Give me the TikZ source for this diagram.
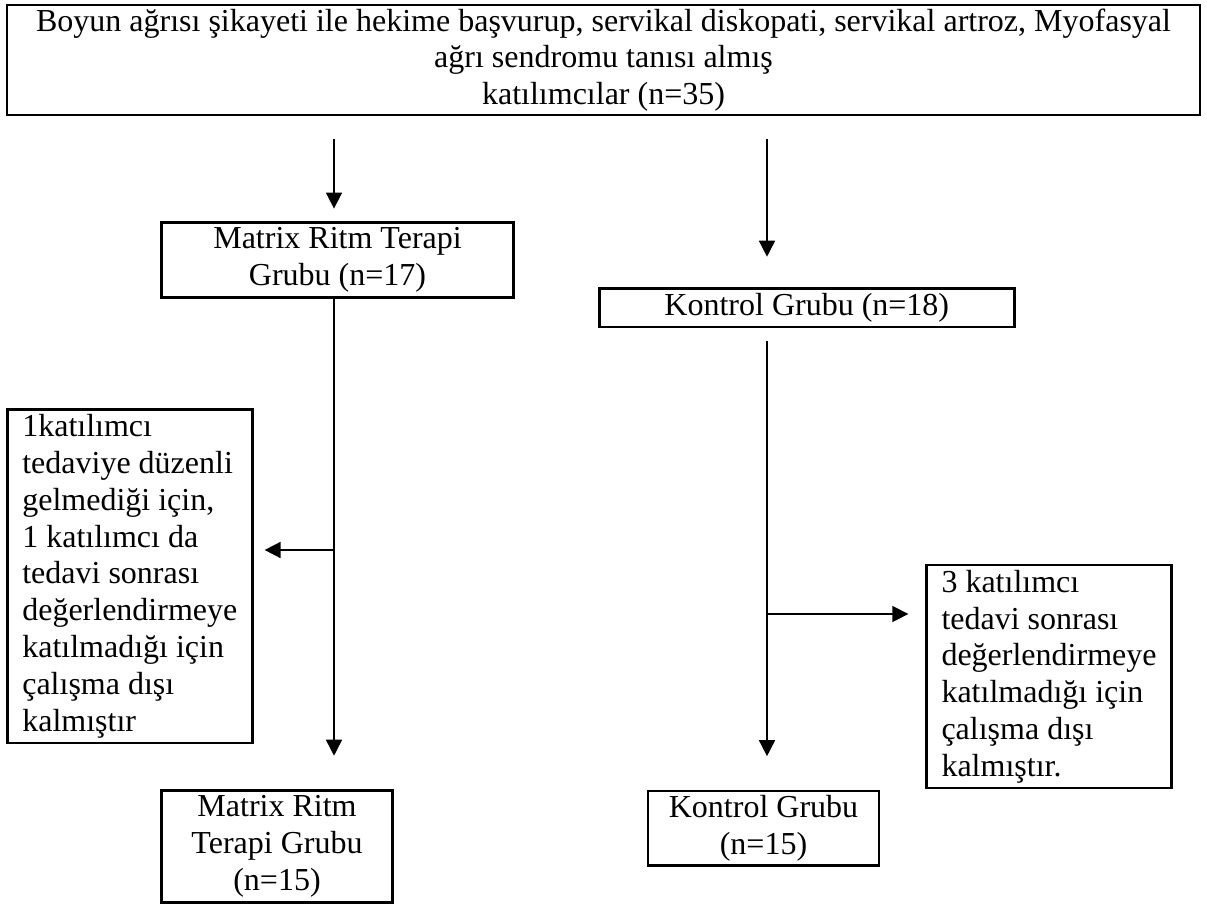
\documentclass[tikz,border=0pt]{standalone}
\usepackage{fontspec}
\setmainfont{Liberation Serif}
\usetikzlibrary{arrows.meta}
\tikzset{
  box/.style = {draw, line width=1pt, inner sep=0pt, align=center, font=\fontsize{12}{13.8}\selectfont},
  dropbox/.style = {box, align=left},
  arr/.style = {line width=0.6pt, -{Triangle[length=6pt, width=6pt]}}
}
\begin{document}
\begin{tikzpicture}[x=0.375pt, y=-0.375pt]
                  \useasboundingbox (0,0) rectangle (1207,904);
                  \node[box, minimum width=447.4pt, minimum height=41.25pt] (top) at (603.5,60) {Boyun ağrısı şikayeti ile hekime başvurup, servikal diskopati, servikal artroz, Myofasyal\\ağrı sendromu tanısı almış\\katılımcılar (n=35)};
                  \node[box, minimum width=131.85pt, minimum height=28.1pt] (mrt1) at (337.5,260.2) {Matrix Ritm Terapi\\Grubu (n=17)};
                  \node[box, minimum width=155.6pt, minimum height=14.4pt] (kg1) at (806.8,307.9) {Kontrol Grubu (n=18)};
                  \node[dropbox, minimum width=91.9pt, minimum height=125.1pt] (drop1) at (129.8,576.2) {1katılımcı\\tedaviye düzenli\\gelmediği için,\\1 katılımcı da\\tedavi sonrası\\değerlendirmeye\\katılmadığı için\\çalışma dışı\\kalmıştır};
                  \node[dropbox, minimum width=91.7pt, minimum height=83.6pt] (drop2) at (1049,676.5) {3 katılımcı\\tedavi sonrası\\değerlendirmeye\\katılmadığı için\\çalışma dışı\\kalmıştır.};
                  \node[box, minimum width=86.5pt, minimum height=41.9pt] (mrt2) at (277,846.5) {Matrix Ritm\\Terapi Grubu\\(n=15)};
                  \node[box, minimum width=86.6pt, minimum height=28.1pt] (kg2) at (763.5,828.3) {Kontrol Grubu\\(n=15)};
                  \coordinate (colL) at (334,0);
                  \coordinate (colR) at (767,0);
                  \coordinate (brL) at (334,550);
                  \coordinate (brR) at (767,614);
                  \draw[arr, shorten <=8.6pt, shorten >=4.8pt] (top.south -| colL) -- (mrt1.north -| colL);
                  \draw[arr, shorten <=8.6pt, shorten >=11.5pt] (top.south -| colR) -- (kg1.north -| colR);
                  \draw[arr, shorten >=12.6pt] (mrt1.south -| colL) -- (mrt2.north -| colL);
                  \draw[arr, shorten <=4.9pt, shorten >=12.5pt] (kg1.south -| colR) -- (kg2.north -| colR);
                  \draw[arr, shorten >=4.1pt] (brL) -- (drop1.east |- brL);
                  \draw[arr, shorten >=6.4pt] (brR) -- (drop2.west |- brR);
              \end{tikzpicture}
\end{document}
